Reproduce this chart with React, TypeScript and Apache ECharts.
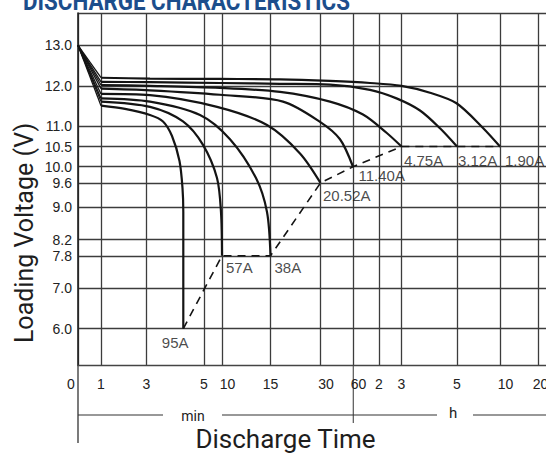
import React, { useEffect, useRef } from 'react';
import * as echarts from 'echarts';

// X axis of the original sheet is a hand-drawn (non-uniform) time scale.
// Axis units below are the sheet's own abscissa units; tick labels are times.
const xTickPos = [0, 23, 68.5, 126, 144, 192.5, 242.5, 275, 301, 323.5, 379, 422, 460.5];
const xTickLabels = ['0', '1', '3', '5', '10', '15', '30', '60', '2', '3', '5', '10', '20'];
const X_MAX = 470;

const yTicks = [6.0, 7.0, 7.8, 8.2, 9.0, 9.6, 10.0, 10.5, 11.0, 12.0, 13.0];
const Y_MIN = 5.1;
const Y_MAX = 13.8;

const startVoltage = 13.0;

const currents = ['95A', '57A', '38A', '20.52A', '11.40A', '4.75A', '3.12A', '1.90A'];

const curve95A = [[23, 11.51], [47, 11.43], [72, 11.28], [85, 11.12], [94, 10.76], [101.5, 10.14], [104.5, 9.47], [105.3, 8.88], [105.3, 6.0]];
const curve57A = [[23, 11.61], [72, 11.48], [105, 11.12], [125, 10.54], [139, 9.72], [143, 8.88], [144, 7.8]];
const curve38A = [[23, 11.69], [72, 11.61], [122, 11.28], [152, 10.68], [178, 9.72], [189, 8.88], [192.5, 7.8]];
const curve20A = [[23, 11.80], [72, 11.77], [139, 11.48], [189, 11.03], [222, 10.33], [242.5, 9.6]];
const curve11A = [[23, 11.93], [72, 11.89], [142, 11.78], [205, 11.61], [242, 11.11], [262, 10.68], [275, 10.0]];
const curve4A = [[23, 12.02], [72, 12.0], [142, 11.95], [202, 11.85], [252, 11.61], [285, 11.29], [308.5, 10.84], [323.5, 10.5]];
const curve3A = [[23, 12.10], [72, 12.09], [142, 12.07], [202, 12.05], [252, 12.03], [292, 11.90], [318.5, 11.69], [342, 11.39], [362, 10.95], [379, 10.5]];
const curve1A = [[23, 12.20], [72, 12.18], [142, 12.17], [202, 12.16], [252, 12.12], [292, 12.07], [323.5, 12.0], [352, 11.83], [378.5, 11.57], [405, 10.96], [422, 10.5]];

const curves = [curve95A, curve57A, curve38A, curve20A, curve11A, curve4A, curve3A, curve1A];

// label placement (style) relative to curve end points, in px
const labelAnchor: Record<string, [number, number]> = {
  '95A': [-21, 14],
  '57A': [4.5, 12],
  '38A': [4.5, 12],
  '20.52A': [3, 13],
  '11.40A': [6, 9],
  '4.75A': [3, 14],
  '3.12A': [1.5, 14],
  '1.90A': [5.5, 14],
};

const labelShift: Record<number, string> = { 0: 'l', 4: 'r', 6: 'r', 7: 'r', 11: 'r', 12: 'r2' };

export default function App() {
  const ref = useRef<HTMLDivElement>(null);

  useEffect(() => {
    if (!ref.current) return;
    const chart = echarts.init(ref.current, undefined, { renderer: 'svg' });
    const ink = '#141414';
    const gridInk = '#3c3c3c';
    const labelFont = 'Liberation Sans';

    const series: any[] = [];
    curves.forEach((c, i) => {
      series.push({
        type: 'line',
        name: currents[i] + ' start',
        data: [[0, startVoltage], c[0]],
        symbol: 'none',
        silent: true,
        lineStyle: { color: ink, width: 1.3 },
        z: 3,
      });
      series.push({
        type: 'line',
        name: currents[i],
        data: c,
        smooth: 0.3,
        symbol: 'none',
        silent: true,
        lineStyle: { color: ink, width: 2.2 },
        z: 4,
      });
    });
    const ends = curves.map((c) => c[c.length - 1]);
    series.push({
      type: 'line',
      name: 'end',
      data: ends,
      symbol: 'none',
      silent: true,
      lineStyle: { color: ink, width: 1.6, type: [8, 6] },
      z: 3,
    });
    series.push({
      type: 'scatter',
      name: 'labels',
      symbolSize: 1,
      silent: true,
      itemStyle: { color: 'rgba(0,0,0,0)' },
      data: ends.map((e, i) => ({
        name: currents[i],
        value: e,
        label: { position: labelAnchor[currents[i]] },
      })),
      label: {
        show: true,
        formatter: '{b}',
        color: '#1a1a1a',
        fontFamily: labelFont,
        fontSize: 15,
        align: 'left',
        verticalAlign: 'middle',
      },
      z: 5,
    });

    const richBase = { fontFamily: labelFont, fontSize: 14, color: '#222' };

    chart.setOption({
      animation: false,
      backgroundColor: '#ffffff',
      grid: { left: 78, right: -2, top: 13, bottom: 88, outerBoundsMode: 'none', containLabel: false },
      xAxis: {
        type: 'value',
        min: 0,
        max: X_MAX,
        axisLine: { show: true, lineStyle: { color: '#444', width: 1.3 } },
        axisTick: { show: false, customValues: xTickPos },
        splitLine: { show: true, lineStyle: { color: gridInk, width: 1.3 } },
        axisLabel: {
          customValues: xTickPos,
          margin: 12,
          fontFamily: labelFont,
          fontSize: 14,
          color: '#222',
          formatter: (v: number) => {
            const idx = xTickPos.findIndex((p) => Math.abs(p - v) < 1e-6);
            if (idx < 0) return '';
            const s = labelShift[idx];
            return s ? `{${s}|${xTickLabels[idx]}}` : xTickLabels[idx];
          },
          rich: {
            l: { ...richBase, padding: [0, 14, 0, 0] },
            r: { ...richBase, padding: [0, 0, 0, 11] },
            r2: { ...richBase, padding: [0, 0, 0, 4] },
          },
        },
      },
      yAxis: {
        type: 'value',
        min: Y_MIN,
        max: Y_MAX,
        axisLine: { show: true, lineStyle: { color: '#222', width: 1.6 } },
        axisTick: { show: false, customValues: [...yTicks, Y_MAX] },
        splitLine: { show: true, lineStyle: { color: gridInk, width: 1.3 } },
        axisLabel: {
          customValues: yTicks,
          margin: 6,
          fontFamily: labelFont,
          fontSize: 14,
          color: '#222',
          formatter: (v: number) => v.toFixed(1),
        },
      },
      graphic: [
        { type: 'line', shape: { x1: 78, y1: 365, x2: 78, y2: 443 }, style: { stroke: '#333', lineWidth: 1.3 } },
        { type: 'line', shape: { x1: 353.3, y1: 365, x2: 353.3, y2: 423 }, style: { stroke: '#555', lineWidth: 1.2 } },
        { type: 'line', shape: { x1: 78, y1: 415, x2: 163, y2: 415 }, style: { stroke: '#333', lineWidth: 1.2 } },
        { type: 'line', shape: { x1: 222, y1: 415, x2: 437, y2: 415 }, style: { stroke: '#333', lineWidth: 1.2 } },
        { type: 'line', shape: { x1: 473, y1: 415, x2: 546, y2: 415 }, style: { stroke: '#333', lineWidth: 1.2 } },
        {
          type: 'text', x: 193, y: 416,
          style: { text: 'min', font: '14px Roboto', fill: '#222', textAlign: 'center', textVerticalAlign: 'middle' },
        },
        {
          type: 'text', x: 453, y: 413,
          style: { text: 'h', font: '15px Roboto', fill: '#222', textAlign: 'center', textVerticalAlign: 'middle' },
        },
        {
          type: 'text', x: 285.5, y: 439,
          style: { text: 'Discharge Time', font: '26px Roboto', fill: '#1e1e1e', textAlign: 'center', textVerticalAlign: 'middle' },
        },
        {
          type: 'text', x: 24, y: 233, rotation: Math.PI / 2,
          style: { text: 'Loading Voltage (V)', font: '25px Roboto', fill: '#1e1e1e', textAlign: 'center', textVerticalAlign: 'middle' },
        },
        {
          type: 'text', x: 23, y: 1.7, scaleX: 0.86,
          style: { text: 'DISCHARGE CHARACTERISTICS', font: 'bold 26px Roboto', fill: '#1c4e8c', textAlign: 'left', textVerticalAlign: 'middle' },
        },
      ],
      series,
    });

    return () => {
      chart.dispose();
    };
  }, []);

  return (
    <div
      ref={ref}
      style={{ position: 'fixed', left: 0, top: 0, width: 546, height: 453, background: '#fff' }}
    />
  );
}
